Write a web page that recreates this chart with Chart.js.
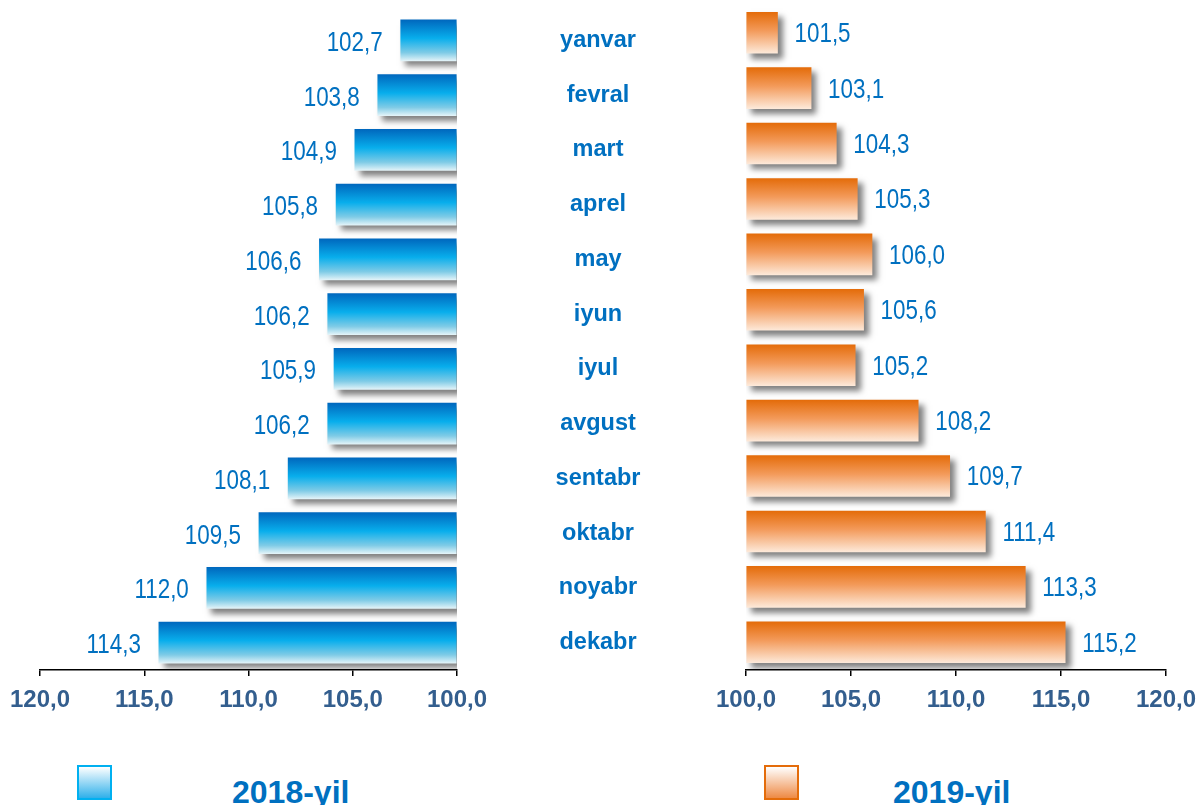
<!DOCTYPE html>
<html>
<head>
<meta charset="utf-8">
<script src="https://cdn.jsdelivr.net/npm/chart.js@4.4.1/dist/chart.umd.min.js"></script>
<style>
  body { margin: 0; background: #fff; width: 1197px; height: 805px; position: relative; overflow: hidden; font-family: Arial, "Liberation Sans", sans-serif; }
  canvas { position: absolute; left: 0; top: 0; }
  .box { position: absolute; width: 31px; height: 31px; border: 2px solid; }
  .leg { position: absolute; font-weight: bold; font-size: 32px; color: #0070C0; }
</style>
</head>
<body>
<canvas id="chartLeft" width="1197" height="730"></canvas>
<canvas id="chartRight" width="1240" height="730"></canvas>
<div class="box" style="left:77px;top:765px;border-color:#00B0F0;background:linear-gradient(#fff,#2FB0EA);"></div>
<div class="leg" style="left:232px;top:774px;">2018-yil</div>
<div class="box" style="left:764px;top:765px;border-color:#E46C0A;background:linear-gradient(#fff,#EE8A45);"></div>
<div class="leg" style="left:893px;top:774px;">2019-yil</div>
<script>
const oylar = ["yanvar", "fevral", "mart", "aprel", "may", "iyun", "iyul", "avgust", "sentabr", "oktabr", "noyabr", "dekabr"];
const qiymat2018 = [102.7, 103.8, 104.9, 105.8, 106.6, 106.2, 105.9, 106.2, 108.1, 109.5, 112.0, 114.3];
const qiymat2019 = [101.5, 103.1, 104.3, 105.3, 106.0, 105.6, 105.2, 108.2, 109.7, 111.4, 113.3, 115.2];
const shkala = { min: 100, max: 120, step: 5 };

const fmt = v => Number(v).toFixed(1).replace(".", ",");
const barH = 41;

// soya (shadow) for bars
const soya = {
  id: "soya",
  beforeDatasetDraw(chart) {
    const c = chart.ctx;
    c.save();
    c.shadowColor = "rgba(0,0,0,0.5)";
    c.shadowOffsetX = 5;
    c.shadowOffsetY = 5;
    c.shadowBlur = 6;
  },
  afterDatasetDraw(chart) { chart.ctx.restore(); }
};

// value labels next to bars (narrow look: squeeze horizontally)
const yozuv = {
  id: "yozuv",
  afterDatasetsDraw(chart, args, opts) {
    const c = chart.ctx;
    const meta = chart.getDatasetMeta(0);
    const data = chart.data.datasets[0].data;
    meta.data.forEach((el, i) => {
      c.save();
      c.font = "27px 'Liberation Sans Narrow', Arial, sans-serif";
      c.fillStyle = "#0070C0";
      c.textBaseline = "middle";
      if (opts.side === "left") {
        c.translate(el.x - 18, el.y + 3);
        c.textAlign = "right";
      } else {
        c.translate(el.x + 17, el.y + 2);
        c.textAlign = "left";
      }
      c.scale(0.83, 1);
      c.fillText(fmt(data[i]), 0, 0);
      c.restore();
    });
  }
};

// month names in the middle
const oyNomi = {
  id: "oyNomi",
  afterDraw(chart) {
    const c = chart.ctx;
    const y = chart.scales.y;
    c.save();
    c.font = "bold 23.5px Arial, 'Liberation Sans', sans-serif";
    c.fillStyle = "#0070C0";
    c.textAlign = "center";
    c.textBaseline = "middle";
    chart.data.labels.forEach((lab, i) => {
      c.fillText(lab, 598, y.getPixelForValue(i));
    });
    c.restore();
  }
};

function gradient(stops) {
  return function (context) {
    const chart = context.chart;
    const y = chart.scales.y;
    if (!y || context.dataIndex === undefined) return stops[1][1];
    const cy = y.getPixelForValue(context.dataIndex);
    if (!isFinite(cy)) return stops[1][1];
    const g = chart.ctx.createLinearGradient(0, cy - barH / 2, 0, cy + barH / 2);
    stops.forEach(s => g.addColorStop(s[0], s[1]));
    return g;
  };
}

const xAxis = (reverse) => ({
  type: "linear",
  reverse: reverse,
  min: shkala.min,
  max: shkala.max,
  afterFit(scale) { scale.height = 60; },
  ticks: {
    stepSize: shkala.step,
    callback: v => fmt(v),
    color: "#335E8E",
    font: { family: "Arial, 'Liberation Sans', sans-serif", size: 24, weight: "bold" },
    padding: 10,
    maxRotation: 0
  },
  grid: { drawOnChartArea: false, drawTicks: true, tickLength: 6, color: "#000", lineWidth: 1.5 },
  border: { display: true, color: "#000", width: 1.5 }
});

new Chart(document.getElementById("chartLeft"), {
  type: "bar",
  data: {
    labels: oylar,
    datasets: [{
      label: "2018-yil",
      data: qiymat2018,
      base: shkala.min,
      barThickness: barH,
      borderWidth: 0,
      backgroundColor: gradient([[0, "#0068BE"], [0.45, "#08AEEC"], [0.8, "#7FCBE6"], [1, "#E2F3F8"]])
    }]
  },
  options: {
    indexAxis: "y",
    responsive: false,
    animation: false,
    layout: { padding: { left: 40, right: 740, top: 13, bottom: 0 } },
    plugins: { legend: { display: false }, tooltip: { enabled: false }, yozuv: { side: "left" } },
    scales: {
      x: xAxis(true),
      y: { display: false }
    }
  },
  plugins: [soya, yozuv, oyNomi]
});

new Chart(document.getElementById("chartRight"), {
  type: "bar",
  data: {
    labels: oylar,
    datasets: [{
      label: "2019-yil",
      data: qiymat2019,
      base: shkala.min,
      barThickness: barH,
      borderWidth: 0,
      backgroundColor: gradient([[0, "#E46C0A"], [0.45, "#F39A5A"], [1, "#FDE9D9"]])
    }]
  },
  options: {
    indexAxis: "y",
    responsive: false,
    animation: false,
    layout: { padding: { left: 746, right: 74, top: 5, bottom: 0 } },
    plugins: { legend: { display: false }, tooltip: { enabled: false }, yozuv: { side: "right" } },
    scales: {
      x: xAxis(false),
      y: { display: false }
    }
  },
  plugins: [soya, yozuv]
});
</script>
</body>
</html>
